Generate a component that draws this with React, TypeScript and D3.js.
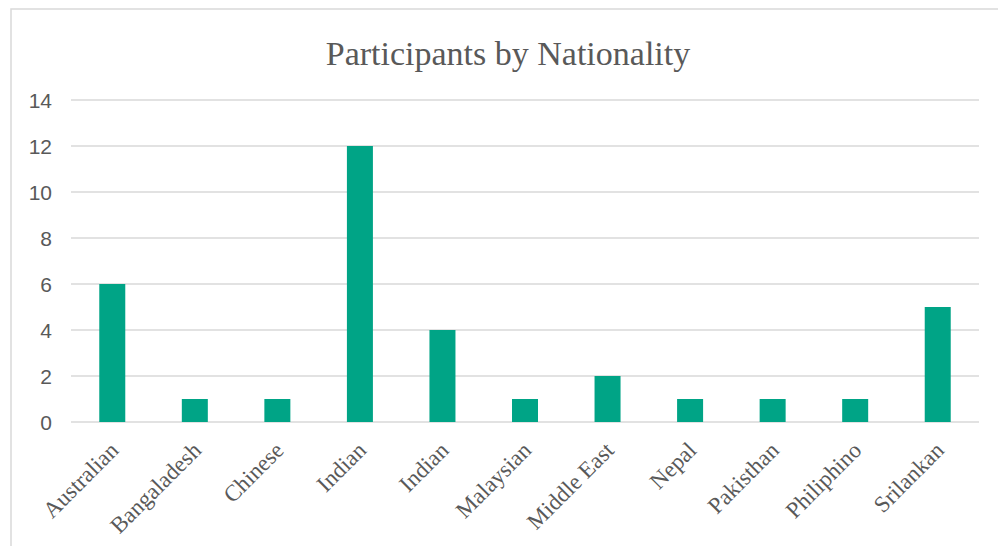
import React from "react";
import * as d3 from "d3";

const categories = ["Australian", "Bangaladesh", "Chinese", "Indian", "Indian ", "Malaysian", "Middle East", "Nepal", "Pakisthan", "Philiphino", "Srilankan"];
const values = [6, 1, 1, 12, 4, 1, 2, 1, 1, 1, 5];
const yTicks = [0, 2, 4, 6, 8, 10, 12, 14];
const title = "Participants by Nationality";

const W = 998, H = 546;
const plot = { left: 71, right: 979, top: 100, bottom: 422 };
const textColor = "#595959";
const gridColor = "#d9d9d9";
const barColor = "#00a486";

export default function App() {
  const x = d3.scaleBand<string>().domain(categories.map((c, i) => i + "")).range([plot.left, plot.right]).paddingInner(0.685).paddingOuter(0.3425);
  const y = d3.scaleLinear().domain([0, 14]).range([plot.bottom, plot.top]);
  return (
    <svg width={W} height={H} style={{ position: "absolute", left: 0, top: 0, background: "#fff" }}>
      <rect x={11} y={9} width={W + 10} height={H + 10} fill="#fff" stroke={gridColor} strokeWidth={1.5} />
      <text x={508} y={65} textAnchor="middle" fontFamily="Liberation Serif" fontSize={34} fill={textColor}>{title}</text>
      {yTicks.map(t => (
        <g key={t}>
          <line x1={plot.left} x2={plot.right} y1={y(t)} y2={y(t)} stroke={gridColor} strokeWidth={1.5} />
          <text x={52} y={y(t)} dy="0.36em" textAnchor="end" fontFamily="Liberation Sans" fontSize={21} fill={textColor}>{t}</text>
        </g>
      ))}
      {values.map((v, i) => (
        <rect key={i} x={x(i + "")!} width={x.bandwidth()} y={y(v)} height={y(0) - y(v)} fill={barColor} />
      ))}
      {categories.map((c, i) => {
        const cx = x(i + "")! + x.bandwidth() / 2;
        return (
          <text key={i} transform={`translate(${cx + 2},${plot.bottom + 24}) rotate(-45)`} dy="0.35em" textAnchor="end" fontFamily="Liberation Serif" fontSize={23} fill={textColor}>{c.trim()}</text>
        );
      })}
    </svg>
  );
}
